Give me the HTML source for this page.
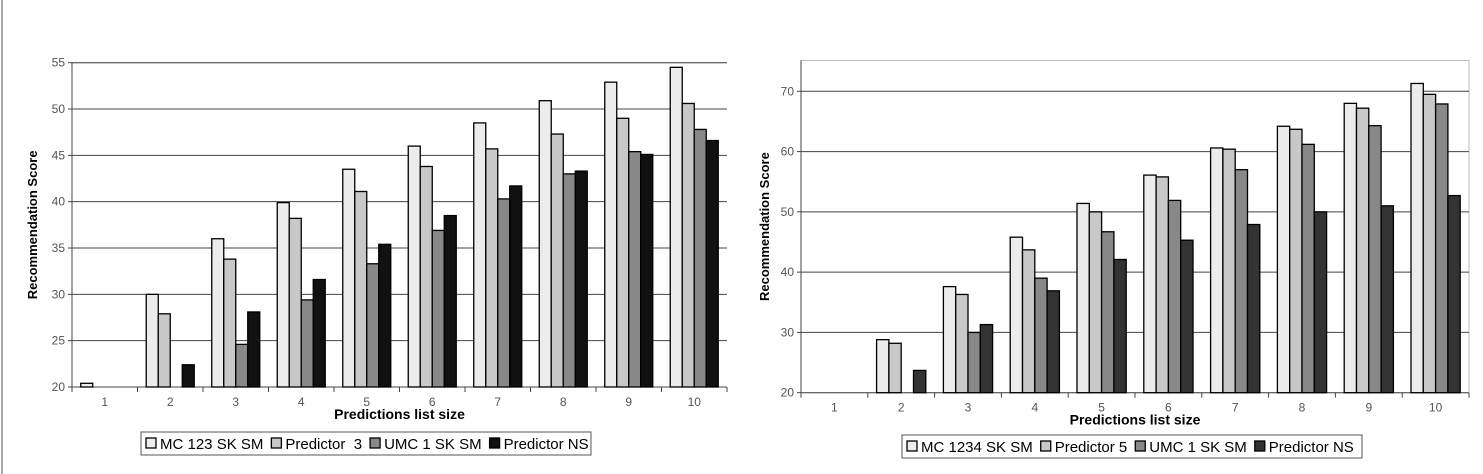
<!DOCTYPE html>
<html><head><meta charset="utf-8"><style>
body{margin:0;background:#fff;width:1483px;height:474px;overflow:hidden}
svg{display:block;font-family:"Liberation Sans",Arial,sans-serif}
text{white-space:pre}
</style></head><body>
<svg id="svg" width="1483" height="474">
<line x1="2" y1="0" x2="2" y2="474" stroke="#aaa" stroke-width="2"/>
</svg>
<script>
const categories=["1","2","3","4","5","6","7","8","9","10"];
const leftMC=[20.4,30,36,39.9,43.5,46,48.5,50.9,52.9,54.5];
const leftP3=[null,27.9,33.8,38.2,41.1,43.8,45.7,47.3,49,50.6];
const leftUMC=[null,null,24.6,29.4,33.3,36.9,40.3,43,45.4,47.8];
const leftNS=[null,22.4,28.1,31.6,35.4,38.5,41.7,43.3,45.1,46.6];
const leftTicks=[20,25,30,35,40,45,50,55];
const leftLegend=["MC 123 SK SM","Predictor  3","UMC 1 SK SM","Predictor NS"];
const rightMC=[null,28.8,37.6,45.8,51.4,56.1,60.6,64.2,68,71.3];
const rightP5=[null,28.2,36.3,43.7,50,55.8,60.4,63.7,67.2,69.5];
const rightUMC=[null,null,30,39,46.7,51.9,57,61.2,64.3,67.9];
const rightNS=[null,23.7,31.3,36.9,42.1,45.3,47.9,50,51,52.7];
const rightTicks=[20,30,40,50,60,70];
const rightLegend=["MC 1234 SK SM","Predictor 5","UMC 1 SK SM","Predictor NS"];

const NS="http://www.w3.org/2000/svg";
const svg=document.getElementById('svg');
function mk(tag,attrs,parent){const e=document.createElementNS(NS,tag);for(const k in attrs)e.setAttribute(k,attrs[k]);(parent||svg).appendChild(e);return e;}

function chart(o){
  const g=mk('g',{});
  
  
  const y=v=>o.y0+(v-o.vmin)/(o.vmax-o.vmin)*(o.y1-o.y0);
  const cw=(o.x1-o.x0)/categories.length;
  if(o.frame){const f=mk('rect',{x:o.x0,y:o.top,width:o.x1-o.x0,height:o.y0-o.top,fill:'none',stroke:'#bbb'},g);
    }
  else{const t=mk('line',{x1:o.x0,y1:o.top,x2:o.x1,y2:o.top,stroke:'#bbb'},g);
    }
  o.ticks.forEach(t=>{
    const yy=y(t);
    if(t>o.vmin){const gl=mk('line',{x1:o.x0,y1:yy,x2:o.x1,y2:yy,stroke:'#444','stroke-width':1},g);
      }
    mk('line',{x1:o.x0-4,y1:yy,x2:o.x0,y2:yy,stroke:'#444'},g);
    const tx=mk('text',{x:o.x0-7,y:yy+4,'text-anchor':'end','font-size':12,fill:'#555'},g);
    tx.textContent=t;
  });
  const ax=mk('line',{x1:o.x0,y1:o.y0,x2:o.x1,y2:o.y0,stroke:'#444'},g);
  
  const ay=mk('line',{x1:o.x0,y1:o.top,x2:o.x0,y2:o.y0,stroke:'#444'},g);
  
  const bw=o.bw, gw=bw*4;
  categories.forEach((c,i)=>{
    const cx=o.x0+cw*i;
    mk('line',{x1:cx,y1:o.y0,x2:cx,y2:o.y0+5,stroke:'#444'},g);
    const tx=mk('text',{x:cx+cw/2,y:o.y0+19,'text-anchor':'middle','font-size':12,fill:'#555'},g);
    tx.textContent=c;
    o.series.forEach((s,j)=>{
      const v=s[i];if(v==null)return;
      const bx=cx+(cw-gw)/2+j*bw;
      const r=mk('rect',{x:bx,y:y(v),width:bw,height:o.y0-y(v),fill:o.colors[j],stroke:'#000','stroke-width':1.3},g);
      
      
    });
  });
  mk('line',{x1:o.x1,y1:o.y0,x2:o.x1,y2:o.y0+5,stroke:'#444'},g);
  const xt=mk('text',{x:(o.x0+o.x1)/2,y:o.y0+32,'text-anchor':'middle','font-size':14,'font-weight':'bold'},g);
  xt.textContent='Predictions list size';
  const yt=mk('text',{x:0,y:0,transform:`translate(${o.ytx},${(o.top+o.y0)/2}) rotate(-90)`,'text-anchor':'middle','font-size':13,'font-weight':'bold'},g);
  yt.textContent='Recommendation Score';
  const lg=mk('g',{},g);
  
  mk('rect',{x:o.lx,y:o.ly,width:o.lw,height:23,fill:'#fff',stroke:'#555'},lg);
  let px=o.lx+5;
  o.legend.forEach((t,j)=>{
    mk('rect',{x:px,y:o.ly+6,width:10,height:10,fill:o.colors[j],stroke:'#000','stroke-width':1.3},lg);
    const tx=mk('text',{x:px+14,y:o.ly+17,'font-size':15,fill:'#000'},lg);
    tx.textContent=t;
    px+=14+tx.getComputedTextLength()+8;
  });
}
chart({name:'left-chart',x0:72,x1:727,y0:387,y1:62.7,top:62.7,vmin:20,vmax:55,ticks:leftTicks,bw:12,
  series:[leftMC,leftP3,leftUMC,leftNS],colors:['#ececec','#c8c8c8','#888','#111'],legend:leftLegend,
  ytx:37,lx:141,ly:432,lw:450,frame:false});
chart({name:'right-chart',x0:801,x1:1469,y0:392.7,y1:91.3,top:60.5,vmin:20,vmax:70,ticks:rightTicks,bw:12.3,
  series:[rightMC,rightP5,rightUMC,rightNS],colors:['#ececec','#c8c8c8','#888','#333'],legend:rightLegend,
  ytx:769,lx:902,ly:435,lw:460,frame:true});
</script>
</body></html>
